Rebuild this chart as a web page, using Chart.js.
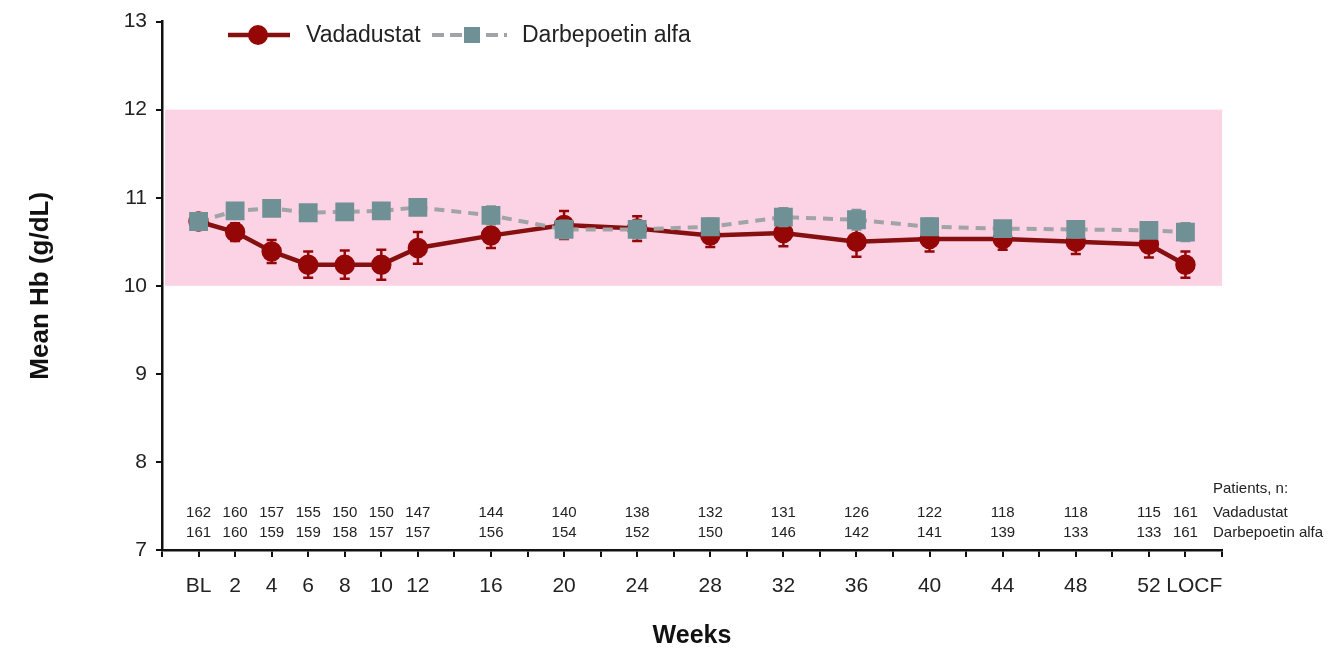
<!DOCTYPE html>
<html lang="en">
<head>
    <meta charset="UTF-8">
    <title>Mean Hb over time</title>
    <script src="https://cdn.jsdelivr.net/npm/chart.js@4.4.1/dist/chart.umd.min.js"></script>
    <style>
        body {
            margin: 0;
            padding: 0;
            background-color: #ffffff;
        }
        #chartContainer {
            width: 1332px;
            height: 649px;
        }
    </style>
</head>
<body>
    <div id="chartContainer">
        <canvas id="hbChart"></canvas>
    </div>

    <script>
        // Weeks on the x axis (LOCF placed after week 52)
        const weeks = [0, 2, 4, 6, 8, 10, 12, 16, 20, 24, 28, 32, 36, 40, 44, 48, 52, 54];
        const weekLabels = ['BL', '2', '4', '6', '8', '10', '12', '16', '20', '24', '28', '32', '36', '40', '44', '48', '52', '   LOCF'];

        // Mean Hb (g/dL) and error bar half-widths
        const vadaMean = [10.73, 10.61, 10.39, 10.24, 10.24, 10.24, 10.43, 10.57, 10.69, 10.65, 10.57, 10.60, 10.50, 10.53, 10.53, 10.50, 10.47, 10.24];
        const vadaErr = [0.08, 0.10, 0.13, 0.15, 0.16, 0.17, 0.18, 0.14, 0.16, 0.14, 0.13, 0.15, 0.17, 0.14, 0.12, 0.14, 0.15, 0.15];
        const darbeMean = [10.73, 10.85, 10.88, 10.83, 10.84, 10.85, 10.89, 10.80, 10.64, 10.64, 10.67, 10.78, 10.75, 10.67, 10.65, 10.64, 10.63, 10.61];
        const darbeErr = [0.06, 0.06, 0.06, 0.06, 0.06, 0.06, 0.07, 0.10, 0.10, 0.10, 0.09, 0.10, 0.11, 0.09, 0.08, 0.09, 0.08, 0.10];

        // Patients, n
        const vadaN = [162, 160, 157, 155, 150, 150, 147, 144, 140, 138, 132, 131, 126, 122, 118, 118, 115, 161];
        const darbeN = [161, 160, 159, 159, 158, 157, 157, 156, 154, 152, 150, 146, 142, 141, 139, 133, 133, 161];

        // Target Hb range
        const targetLow = 10;
        const targetHigh = 12;

        const RED = '#950606';
        const RED_LINE = '#860f0f';
        const GRAY_FILL = '#6f9195';
        const GRAY_LINE = '#a0a4a6';
        const FONT = 'Arial, "Liberation Sans", sans-serif';
        const errs = [vadaErr, darbeErr];

        const toPoints = (ys) => weeks.map((w, i) => ({ x: w, y: ys[i] }));

        const bandPlugin = {
            id: 'targetBand',
            beforeDatasetsDraw(chart) {
                const { ctx, chartArea, scales } = chart;
                const yTop = scales.y.getPixelForValue(targetHigh);
                const yBot = scales.y.getPixelForValue(targetLow);
                ctx.save();
                ctx.fillStyle = '#fcd3e5';
                ctx.fillRect(chartArea.left + 3, yTop, chartArea.right - chartArea.left - 3, yBot - yTop);
                ctx.restore();
            }
        };

        const errorBarPlugin = {
            id: 'errorBars',
            beforeDatasetDraw(chart, args) {
                const { ctx, scales } = chart;
                const ds = chart.data.datasets[args.index];
                const err = errs[args.index];
                ctx.save();
                ctx.strokeStyle = ds.errColor;
                ctx.lineWidth = 2.5;
                ds.data.forEach((p, i) => {
                    const x = scales.x.getPixelForValue(p.x);
                    const y1 = scales.y.getPixelForValue(p.y + err[i]);
                    const y2 = scales.y.getPixelForValue(p.y - err[i]);
                    ctx.beginPath();
                    ctx.moveTo(x, y1); ctx.lineTo(x, y2);
                    ctx.moveTo(x - 5, y1); ctx.lineTo(x + 5, y1);
                    ctx.moveTo(x - 5, y2); ctx.lineTo(x + 5, y2);
                    ctx.stroke();
                });
                ctx.restore();
            }
        };

        const annotationPlugin = {
            id: 'annotations',
            afterDraw(chart) {
                const { ctx, chartArea, scales } = chart;
                ctx.save();
                ctx.fillStyle = '#222';
                ctx.font = '15px ' + FONT;
                ctx.textAlign = 'center';
                ctx.textBaseline = 'middle';
                const row1 = chartArea.bottom - 37;
                const row2 = chartArea.bottom - 17;
                weeks.forEach((w, i) => {
                    const x = scales.x.getPixelForValue(w);
                    ctx.fillText(String(vadaN[i]), x, row1);
                    ctx.fillText(String(darbeN[i]), x, row2);
                });
                ctx.textAlign = 'left';
                ctx.fillText('Patients, n:', 1213, row1 - 24);
                ctx.fillText('Vadadustat', 1213, row1);
                ctx.fillText('Darbepoetin alfa', 1213, row2);

                // legend
                const ly = 35;
                ctx.lineWidth = 4.5;
                ctx.strokeStyle = RED_LINE;
                ctx.beginPath(); ctx.moveTo(228, ly); ctx.lineTo(290, ly); ctx.stroke();
                ctx.fillStyle = RED;
                ctx.beginPath(); ctx.arc(258, ly, 10, 0, Math.PI * 2); ctx.fill();
                ctx.strokeStyle = GRAY_LINE;
                ctx.lineWidth = 4;
                ctx.setLineDash([12, 6]);
                ctx.beginPath(); ctx.moveTo(432, ly); ctx.lineTo(507, ly); ctx.stroke();
                ctx.setLineDash([]);
                ctx.fillStyle = GRAY_FILL;
                ctx.fillRect(464, ly - 8, 16, 16);
                ctx.fillStyle = '#222';
                ctx.font = '23px ' + FONT;
                ctx.fillText('Vadadustat', 306, ly + 1);
                ctx.fillText('Darbepoetin alfa', 522, ly + 1);
                ctx.restore();
            }
        };

        const ctx = document.getElementById('hbChart').getContext('2d');
        const chart = new Chart(ctx, {
            type: 'line',
            data: {
                datasets: [
                    {
                        label: 'Vadadustat',
                        data: toPoints(vadaMean),
                        borderColor: RED_LINE,
                        backgroundColor: RED,
                        pointBackgroundColor: RED,
                        pointBorderColor: RED,
                        errColor: RED,
                        borderWidth: 4.5,
                        pointRadius: 8,
                        pointStyle: 'circle',
                        tension: 0,
                        order: 1
                    },
                    {
                        label: 'Darbepoetin alfa',
                        data: toPoints(darbeMean),
                        borderColor: GRAY_LINE,
                        backgroundColor: GRAY_FILL,
                        pointBackgroundColor: GRAY_FILL,
                        pointBorderColor: GRAY_FILL,
                        errColor: '#7f9598',
                        borderWidth: 4,
                        borderDash: [10, 7],
                        pointRadius: 10.5,
                        pointStyle: 'rect',
                        tension: 0,
                        order: 0
                    }
                ]
            },
            options: {
                responsive: true,
                maintainAspectRatio: false,
                animation: false,
                layout: { padding: { top: 19, right: 110, bottom: 0, left: 0 } },
                plugins: {
                    legend: { display: false },
                    tooltip: { enabled: false }
                },
                scales: {
                    x: {
                        type: 'linear',
                        min: -2,
                        max: 56,
                        afterFit: (scale) => { scale.height = 99; },
                        afterBuildTicks: (scale) => {
                            const t = [];
                            for (let v = -2; v <= 56; v += 2) t.push({ value: v });
                            scale.ticks = t;
                        },
                        border: { color: '#111', width: 2.5 },
                        grid: { drawOnChartArea: false, color: '#111', lineWidth: 2, tickLength: 7 },
                        ticks: {
                            autoSkip: false,
                            maxRotation: 0,
                            padding: 17,
                            color: '#222',
                            font: { family: FONT, size: 21 },
                            callback: (v) => {
                                const i = weeks.indexOf(v);
                                return i >= 0 ? weekLabels[i] : '';
                            }
                        },
                        title: {
                            display: true,
                            text: 'Weeks',
                            color: '#111',
                            padding: { top: 0, bottom: 0 },
                            font: { family: FONT, size: 25, weight: 'bold', lineHeight: 1 }
                        }
                    },
                    y: {
                        min: 7,
                        max: 13,
                        afterFit: (scale) => { scale.width = 162; },
                        border: { color: '#111', width: 2.5 },
                        grid: { drawOnChartArea: false, color: '#111', lineWidth: 2, tickLength: 6 },
                        ticks: {
                            stepSize: 1,
                            padding: 9,
                            color: '#222',
                            font: { family: FONT, size: 21 }
                        },
                        title: {
                            display: true,
                            text: 'Mean Hb (g/dL)',
                            color: '#111',
                            padding: { top: 25, bottom: 0 },
                            font: { family: FONT, size: 26, weight: 'bold' }
                        }
                    }
                }
            },
            plugins: [bandPlugin, errorBarPlugin, annotationPlugin]
        });
    </script>
</body>
</html>
